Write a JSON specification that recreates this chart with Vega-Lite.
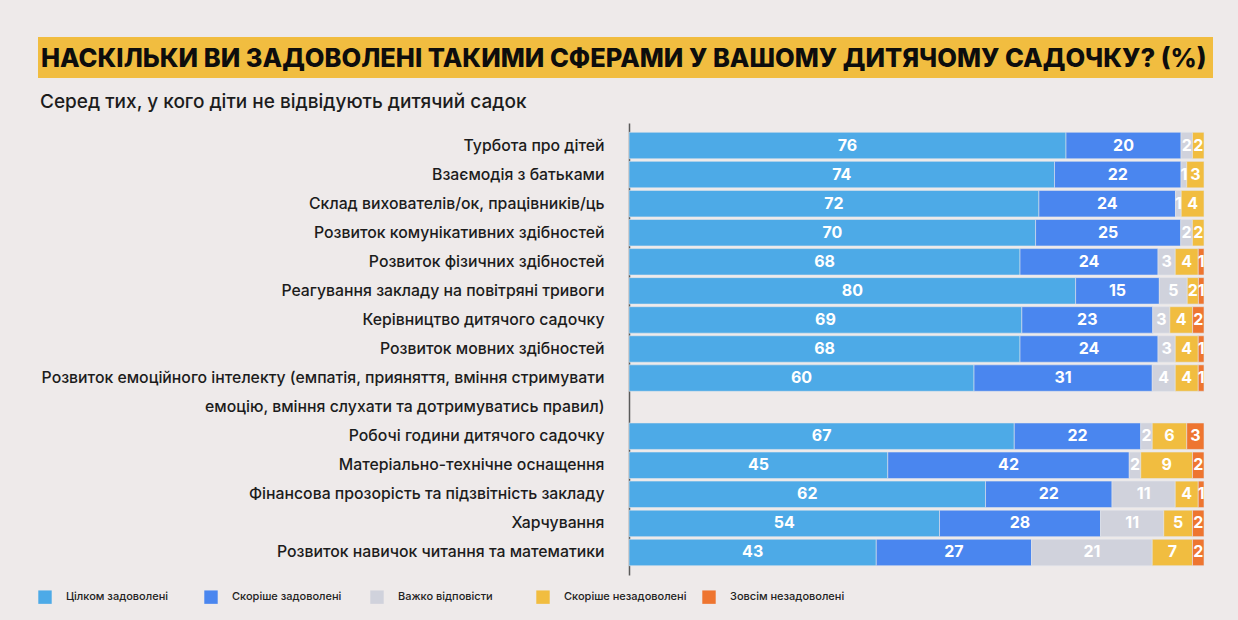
{
  "$schema": "https://vega.github.io/schema/vega-lite/v6.json",
  "background": "#EEEAEA",
  "padding": {"left": 38, "top": 37, "right": 26, "bottom": 20},
  "config": {
    "view": {"stroke": null},
    "font": "Inter",
    "concat": {"spacing": 15}
  },
  "datasets": {
    "heading": [{"t": "НАСКІЛЬКИ ВИ ЗАДОВОЛЕНІ ТАКИМИ СФЕРАМИ У ВАШОМУ ДИТЯЧОМУ САДОЧКУ? (%)"}],
    "rows": [
      {"item": "Турбота про дітей", "answer": "Цілком задоволені", "k": 1, "value": 76},
      {"item": "Турбота про дітей", "answer": "Скоріше задоволені", "k": 2, "value": 20},
      {"item": "Турбота про дітей", "answer": "Важко відповісти", "k": 3, "value": 2},
      {"item": "Турбота про дітей", "answer": "Скоріше незадоволені", "k": 4, "value": 2},
      {"item": "Взаємодія з батьками", "answer": "Цілком задоволені", "k": 1, "value": 74},
      {"item": "Взаємодія з батьками", "answer": "Скоріше задоволені", "k": 2, "value": 22},
      {"item": "Взаємодія з батьками", "answer": "Важко відповісти", "k": 3, "value": 1},
      {"item": "Взаємодія з батьками", "answer": "Скоріше незадоволені", "k": 4, "value": 3},
      {"item": "Склад вихователів/ок, працівників/ць", "answer": "Цілком задоволені", "k": 1, "value": 72},
      {"item": "Склад вихователів/ок, працівників/ць", "answer": "Скоріше задоволені", "k": 2, "value": 24},
      {"item": "Склад вихователів/ок, працівників/ць", "answer": "Важко відповісти", "k": 3, "value": 1},
      {"item": "Склад вихователів/ок, працівників/ць", "answer": "Скоріше незадоволені", "k": 4, "value": 4},
      {"item": "Розвиток комунікативних здібностей", "answer": "Цілком задоволені", "k": 1, "value": 70},
      {"item": "Розвиток комунікативних здібностей", "answer": "Скоріше задоволені", "k": 2, "value": 25},
      {"item": "Розвиток комунікативних здібностей", "answer": "Важко відповісти", "k": 3, "value": 2},
      {"item": "Розвиток комунікативних здібностей", "answer": "Скоріше незадоволені", "k": 4, "value": 2},
      {"item": "Розвиток фізичних здібностей", "answer": "Цілком задоволені", "k": 1, "value": 68},
      {"item": "Розвиток фізичних здібностей", "answer": "Скоріше задоволені", "k": 2, "value": 24},
      {"item": "Розвиток фізичних здібностей", "answer": "Важко відповісти", "k": 3, "value": 3},
      {"item": "Розвиток фізичних здібностей", "answer": "Скоріше незадоволені", "k": 4, "value": 4},
      {"item": "Розвиток фізичних здібностей", "answer": "Зовсім незадоволені", "k": 5, "value": 1},
      {"item": "Реагування закладу на повітряні тривоги", "answer": "Цілком задоволені", "k": 1, "value": 80},
      {"item": "Реагування закладу на повітряні тривоги", "answer": "Скоріше задоволені", "k": 2, "value": 15},
      {"item": "Реагування закладу на повітряні тривоги", "answer": "Важко відповісти", "k": 3, "value": 5},
      {"item": "Реагування закладу на повітряні тривоги", "answer": "Скоріше незадоволені", "k": 4, "value": 2},
      {"item": "Реагування закладу на повітряні тривоги", "answer": "Зовсім незадоволені", "k": 5, "value": 1},
      {"item": "Керівництво дитячого садочку", "answer": "Цілком задоволені", "k": 1, "value": 69},
      {"item": "Керівництво дитячого садочку", "answer": "Скоріше задоволені", "k": 2, "value": 23},
      {"item": "Керівництво дитячого садочку", "answer": "Важко відповісти", "k": 3, "value": 3},
      {"item": "Керівництво дитячого садочку", "answer": "Скоріше незадоволені", "k": 4, "value": 4},
      {"item": "Керівництво дитячого садочку", "answer": "Зовсім незадоволені", "k": 5, "value": 2},
      {"item": "Розвиток мовних здібностей", "answer": "Цілком задоволені", "k": 1, "value": 68},
      {"item": "Розвиток мовних здібностей", "answer": "Скоріше задоволені", "k": 2, "value": 24},
      {"item": "Розвиток мовних здібностей", "answer": "Важко відповісти", "k": 3, "value": 3},
      {"item": "Розвиток мовних здібностей", "answer": "Скоріше незадоволені", "k": 4, "value": 4},
      {"item": "Розвиток мовних здібностей", "answer": "Зовсім незадоволені", "k": 5, "value": 1},
      {"item": "Розвиток емоційного інтелекту (емпатія, прияняття, вміння стримувати", "answer": "Цілком задоволені", "k": 1, "value": 60},
      {"item": "Розвиток емоційного інтелекту (емпатія, прияняття, вміння стримувати", "answer": "Скоріше задоволені", "k": 2, "value": 31},
      {"item": "Розвиток емоційного інтелекту (емпатія, прияняття, вміння стримувати", "answer": "Важко відповісти", "k": 3, "value": 4},
      {"item": "Розвиток емоційного інтелекту (емпатія, прияняття, вміння стримувати", "answer": "Скоріше незадоволені", "k": 4, "value": 4},
      {"item": "Розвиток емоційного інтелекту (емпатія, прияняття, вміння стримувати", "answer": "Зовсім незадоволені", "k": 5, "value": 1},
      {"item": "Робочі години дитячого садочку", "answer": "Цілком задоволені", "k": 1, "value": 67},
      {"item": "Робочі години дитячого садочку", "answer": "Скоріше задоволені", "k": 2, "value": 22},
      {"item": "Робочі години дитячого садочку", "answer": "Важко відповісти", "k": 3, "value": 2},
      {"item": "Робочі години дитячого садочку", "answer": "Скоріше незадоволені", "k": 4, "value": 6},
      {"item": "Робочі години дитячого садочку", "answer": "Зовсім незадоволені", "k": 5, "value": 3},
      {"item": "Матеріально-технічне оснащення", "answer": "Цілком задоволені", "k": 1, "value": 45},
      {"item": "Матеріально-технічне оснащення", "answer": "Скоріше задоволені", "k": 2, "value": 42},
      {"item": "Матеріально-технічне оснащення", "answer": "Важко відповісти", "k": 3, "value": 2},
      {"item": "Матеріально-технічне оснащення", "answer": "Скоріше незадоволені", "k": 4, "value": 9},
      {"item": "Матеріально-технічне оснащення", "answer": "Зовсім незадоволені", "k": 5, "value": 2},
      {"item": "Фінансова прозорість та підзвітність закладу", "answer": "Цілком задоволені", "k": 1, "value": 62},
      {"item": "Фінансова прозорість та підзвітність закладу", "answer": "Скоріше задоволені", "k": 2, "value": 22},
      {"item": "Фінансова прозорість та підзвітність закладу", "answer": "Важко відповісти", "k": 3, "value": 11},
      {"item": "Фінансова прозорість та підзвітність закладу", "answer": "Скоріше незадоволені", "k": 4, "value": 4},
      {"item": "Фінансова прозорість та підзвітність закладу", "answer": "Зовсім незадоволені", "k": 5, "value": 1},
      {"item": "Харчування", "answer": "Цілком задоволені", "k": 1, "value": 54},
      {"item": "Харчування", "answer": "Скоріше задоволені", "k": 2, "value": 28},
      {"item": "Харчування", "answer": "Важко відповісти", "k": 3, "value": 11},
      {"item": "Харчування", "answer": "Скоріше незадоволені", "k": 4, "value": 5},
      {"item": "Харчування", "answer": "Зовсім незадоволені", "k": 5, "value": 2},
      {"item": "Розвиток навичок читання та математики", "answer": "Цілком задоволені", "k": 1, "value": 43},
      {"item": "Розвиток навичок читання та математики", "answer": "Скоріше задоволені", "k": 2, "value": 27},
      {"item": "Розвиток навичок читання та математики", "answer": "Важко відповісти", "k": 3, "value": 21},
      {"item": "Розвиток навичок читання та математики", "answer": "Скоріше незадоволені", "k": 4, "value": 7},
      {"item": "Розвиток навичок читання та математики", "answer": "Зовсім незадоволені", "k": 5, "value": 2}
    ]
  },
  "vconcat": [
    {
      "width": 1175,
      "height": 41,
      "view": {"fill": "#F1BD40", "stroke": null},
      "data": {"name": "heading"},
      "mark": {"type": "text", "align": "left", "baseline": "middle", "dx": 3, "dy": 1, "fontSize": 25.5, "fontWeight": 800, "color": "#0d0d0d"},
      "encoding": {
        "x": {"datum": 0, "type": "quantitative", "scale": {"domain": [0, 1]}, "axis": null},
        "text": {"field": "t"}
      }
    },
    {
      "width": 1166,
      "height": 452,
      "title": {
        "text": "Серед тих, у кого діти не відвідують дитячий садок",
        "anchor": "start",
        "frame": "group",
        "fontSize": 19,
        "fontWeight": 500,
        "color": "#1c1c1c",
        "offset": 11,
        "dx": 2
      },
      "data": {"name": "rows"},
      "encoding": {
        "y": {
          "field": "item",
          "type": "nominal",
          "sort": null,
          "scale": {
            "domain": [
              "Турбота про дітей",
              "Взаємодія з батьками",
              "Склад вихователів/ок, працівників/ць",
              "Розвиток комунікативних здібностей",
              "Розвиток фізичних здібностей",
              "Реагування закладу на повітряні тривоги",
              "Керівництво дитячого садочку",
              "Розвиток мовних здібностей",
              "Розвиток емоційного інтелекту (емпатія, прияняття, вміння стримувати",
              "емоцію, вміння слухати та дотримуватись правил)",
              "Робочі години дитячого садочку",
              "Матеріально-технічне оснащення",
              "Фінансова прозорість та підзвітність закладу",
              "Харчування",
              "Розвиток навичок читання та математики"
            ],
            "paddingInner": 0.09,
            "paddingOuter": 0.32
          },
          "axis": {
            "title": null,
            "offset": -591,
            "ticks": false,
            "domain": true,
            "domainColor": "#5a5a5a",
            "domainWidth": 1.5,
            "labelFontSize": 15.8,
            "labelFontWeight": 500,
            "labelColor": "#1c1c1c",
            "labelPadding": 25,
            "labelLimit": 600
          }
        },
        "order": {"field": "k", "type": "quantitative"}
      },
      "layer": [
        {
          "mark": {"type": "bar", "stroke": "#E4E6EC", "strokeWidth": 0.8, "strokeOpacity": 0.7},
          "encoding": {
            "x": {"field": "value", "type": "quantitative", "stack": "normalize", "scale": {"domain": [-1.028, 1], "nice": false, "zero": false}, "axis": null},
            "color": {
              "field": "answer",
              "type": "nominal",
              "scale": {
                "domain": ["Цілком задоволені", "Скоріше задоволені", "Важко відповісти", "Скоріше незадоволені", "Зовсім незадоволені"],
                "range": ["#4DAAE7", "#4A86EF", "#D0D2DC", "#F1BD40", "#EE7530"]
              },
              "legend": {
                "title": null,
                "orient": "none",
                "direction": "horizontal",
                "legendX": 0,
                "legendY": 553,
                "padding": 0,
                "gridAlign": "all",
                "columnPadding": 15,
                "symbolType": "square",
                "symbolSize": 180,
                "symbolStrokeWidth": 0,
                "symbolOpacity": 1,
                "labelFontSize": 11,
                "labelFontWeight": 500,
                "labelColor": "#222222",
                "labelOffset": 14
              }
            }
          }
        },
        {
          "mark": {"type": "text", "color": "white", "fontSize": 16, "fontWeight": 700, "baseline": "middle", "align": "center"},
          "encoding": {
            "x": {"field": "value", "type": "quantitative", "stack": "normalize", "bandPosition": 0.5},
            "detail": {"field": "answer"},
            "text": {"field": "value", "type": "quantitative"}
          }
        }
      ]
    }
  ]
}
